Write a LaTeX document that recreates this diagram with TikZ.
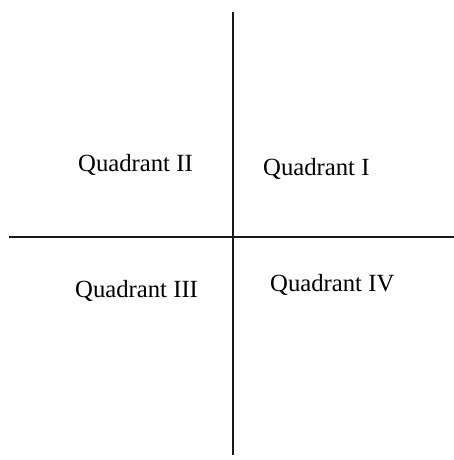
\documentclass[tikz,border=0pt]{standalone}
\usepackage{fontspec}
\setmainfont{Liberation Serif}
\begin{document}
\begin{tikzpicture}[x=1pt,y=-1pt,
  axis/.style={line width=1.4pt,color=black!90},
  qlabel/.style={anchor=base west,inner sep=0pt,font=\fontsize{24.7}{30}\selectfont}]
\useasboundingbox[fill=white] (0,0) rectangle (454,460);
\coordinate (vtop) at (233,12.5);
\coordinate (vbot) at (233,455);
\coordinate (hl) at (9,237);
\coordinate (hr) at (454,237);
\draw[axis] (vtop) -- (vbot);
\draw[axis] (hl) -- (hr);
\node[qlabel] (q2) at (78,171) {Quadrant II};
\node[qlabel] (q1) at (263,175) {Quadrant I};
\node[qlabel] (q3) at (75,297) {Quadrant III};
\node[qlabel] (q4) at (270,291) {Quadrant IV};
\end{tikzpicture}
\end{document}
